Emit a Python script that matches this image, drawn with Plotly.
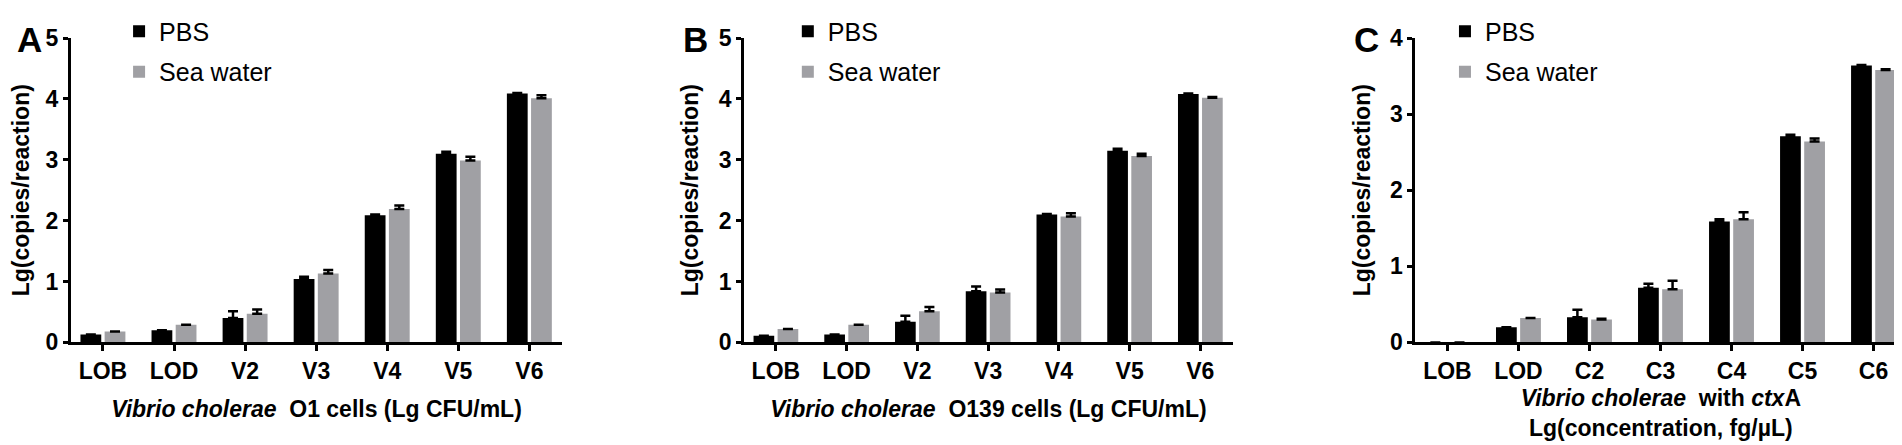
import plotly.graph_objects as go

# category labels
cats_v = ["LOB", "LOD", "V2", "V3", "V4", "V5", "V6"]
cats_c = ["LOB", "LOD", "C2", "C3", "C4", "C5", "C6"]

# panel A - O1 cells
a_pbs = [0.13, 0.20, 0.40, 1.04, 2.09, 3.10, 4.09]
a_pbs_err = [0, 0, 0.11, 0.04, 0.01, 0.03, 0.005]
a_sea = [0.18, 0.29, 0.47, 1.13, 2.19, 2.99, 4.01]
a_sea_err = [0, 0, 0.07, 0.06, 0.06, 0.06, 0.05]

# panel B - O139 cells
b_pbs = [0.11, 0.13, 0.34, 0.84, 2.10, 3.15, 4.08]
b_pbs_err = [0, 0, 0.10, 0.08, 0.01, 0.03, 0.01]
b_sea = [0.22, 0.29, 0.51, 0.82, 2.07, 3.06, 4.02]
b_sea_err = [0, 0, 0.07, 0.05, 0.05, 0.04, 0.01]

# panel C - ctxA
c_pbs = [0, 0.20, 0.33, 0.72, 1.59, 2.71, 3.64]
c_pbs_err = [0, 0, 0.10, 0.05, 0.03, 0.02, 0.005]
c_sea = [0, 0.32, 0.30, 0.70, 1.62, 2.64, 3.58]
c_sea_err = [0, 0, 0.01, 0.11, 0.09, 0.04, 0.01]

FONT = "Arial, Liberation Sans, sans-serif"
PBS_COLOR = "#000000"
SEA_COLOR = "#a0a0a4"

panels = [
    dict(cats=cats_v, pbs=a_pbs, pbs_err=a_pbs_err, sea=a_sea, sea_err=a_sea_err,
         ymax=5, dom=[0.0331, 0.2913], letter="A", letter_x=0.0037, leg_x=0.0584,
         standoff=18,
         title="<i>Vibrio cholerae</i>  <b>O1 cells (Lg CFU/mL)</b>"),
    dict(cats=cats_v, pbs=b_pbs, pbs_err=b_pbs_err, sea=b_sea, sea_err=b_sea_err,
         ymax=5, dom=[0.387, 0.644], letter="B", letter_x=0.3538, leg_x=0.410,
         standoff=18,
         title="<i>Vibrio cholerae</i>  <b>O139 cells (Lg CFU/mL)</b>"),
    dict(cats=cats_c, pbs=c_pbs, pbs_err=c_pbs_err, sea=c_sea, sea_err=c_sea_err,
         ymax=4, dom=[0.740, 0.998], letter="C", letter_x=0.7066, leg_x=0.7555,
         standoff=7,
         title="<i>Vibrio cholerae</i>  <b>with </b><i>ctx</i><b>A</b><br>"
               "<b>Lg(concentration, fg/µL)</b>"),
]

ydom = [0.234, 0.964]

fig = go.Figure()

for i, p in enumerate(panels):
    n = "" if i == 0 else str(i + 1)
    leg = "legend" + n
    for name, vals, errs, color in [
        ("PBS", p["pbs"], p["pbs_err"], PBS_COLOR),
        ("Sea water", p["sea"], p["sea_err"], SEA_COLOR),
    ]:
        fig.add_trace(
            go.Bar(
                x=p["cats"],
                y=vals,
                name=name,
                marker=dict(color=color, line=dict(width=0)),
                error_y=dict(
                    type="data", array=errs, symmetric=False,
                    arrayminus=[0] * len(errs),
                    color="black", thickness=2.5, width=5,
                ),
                xaxis="x" + n,
                yaxis="y" + n,
                legend=leg,
                legendgroup=name + n,
            )
        )

    fig.update_layout({
        "xaxis" + n: dict(
            domain=p["dom"], anchor="y" + n, range=[-0.45, 6.46],
            showline=True, linecolor="black", linewidth=3,
            ticks="outside", ticklen=6, tickwidth=3, tickcolor="black",
            tickfont=dict(family=FONT, size=23, color="black", weight="bold"),
            showgrid=False, zeroline=False,
            title=dict(text=p["title"], standoff=p["standoff"],
                       font=dict(family=FONT, size=23, color="black", weight="bold")),
        ),
        "yaxis" + n: dict(
            domain=ydom, anchor="x" + n, range=[0, p["ymax"]], dtick=1,
            showline=True, linecolor="black", linewidth=3,
            ticks="outside", ticklen=5, tickwidth=3, tickcolor="black",
            tickfont=dict(family=FONT, size=23, color="black", weight="bold"),
            showgrid=False, zeroline=False,
            title=dict(text="Lg(copies/reaction)", standoff=14,
                       font=dict(family=FONT, size=23, color="black", weight="bold")),
        ),
        leg: dict(
            x=p["leg_x"], y=1.035, xanchor="left", yanchor="top",
            font=dict(family=FONT, size=25, color="black"),
            bgcolor="rgba(0,0,0,0)", tracegroupgap=5,
        ),
    })
    fig.add_annotation(
        text=p["letter"], xref="paper", yref="paper",
        x=p["letter_x"], y=1.012, xanchor="left", yanchor="top", showarrow=False,
        font=dict(family=FONT, size=35, color="black", weight="bold"),
    )

fig.update_layout(
    width=1902,
    height=445,
    margin=dict(l=0, r=0, t=0, b=0),
    paper_bgcolor="white",
    plot_bgcolor="white",
    barmode="group",
    bargap=0.32,
    bargroupgap=0.14,
    font=dict(family=FONT, color="black"),
)

fig.write_html("out.html")
